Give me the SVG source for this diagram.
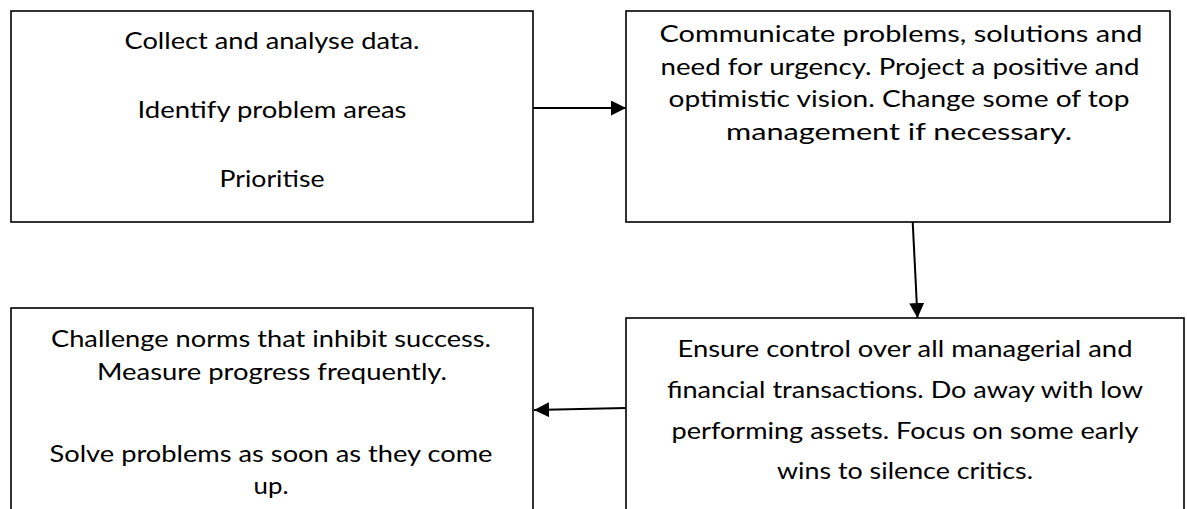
<svg xmlns="http://www.w3.org/2000/svg" width="1187" height="509" viewBox="0 0 1187 509">
<defs>
<style>
.box{fill:#fff;stroke:#000;stroke-width:1.6}
.t{font-family:Lato,"Liberation Sans",sans-serif;font-size:23px;fill:#000;text-anchor:middle}
.c{stroke:#000;stroke-width:2;fill:none}
</style>
<marker id="ah" markerWidth="15" markerHeight="15" refX="15" refY="7.5" orient="auto" markerUnits="userSpaceOnUse">
<path d="M0,0 L15,7.5 L0,15 Z" fill="#000"/>
</marker>
</defs>
<rect width="1187" height="509" fill="#fff"/>
<g id="node1">
<rect class="box" x="11" y="11" width="522" height="211"/>
<text class="t" x="272" y="49" textLength="295" lengthAdjust="spacingAndGlyphs">Collect and analyse data.</text>
<text class="t" x="272" y="118" textLength="269" lengthAdjust="spacingAndGlyphs">Identify problem areas</text>
<text class="t" x="272" y="187" textLength="105" lengthAdjust="spacingAndGlyphs">Prioritise</text>
</g>
<g id="node2">
<rect class="box" x="626" y="11" width="544" height="211"/>
<text class="t" x="901" y="42" textLength="483" lengthAdjust="spacingAndGlyphs">Communicate problems, solutions and</text>
<text class="t" x="900" y="74.5" textLength="479" lengthAdjust="spacingAndGlyphs">need for urgency. Project a positive and</text>
<text class="t" x="899" y="107" textLength="461" lengthAdjust="spacingAndGlyphs">optimistic vision. Change some of top</text>
<text class="t" x="899" y="139.5" textLength="346" lengthAdjust="spacingAndGlyphs">management if necessary.</text>
</g>
<g id="node3">
<rect class="box" x="11" y="308" width="522" height="220"/>
<text class="t" x="271" y="347" textLength="440" lengthAdjust="spacingAndGlyphs">Challenge norms that inhibit success.</text>
<text class="t" x="272" y="379.5" textLength="350" lengthAdjust="spacingAndGlyphs">Measure progress frequently.</text>
<text class="t" x="271" y="461.5" textLength="443" lengthAdjust="spacingAndGlyphs">Solve problems as soon as they come</text>
<text class="t" x="271" y="494" textLength="35" lengthAdjust="spacingAndGlyphs">up.</text>
</g>
<g id="node4">
<rect class="box" x="626" y="318" width="558" height="220"/>
<text class="t" x="905" y="357" textLength="455" lengthAdjust="spacingAndGlyphs">Ensure control over all managerial and</text>
<text class="t" x="905" y="398" textLength="476" lengthAdjust="spacingAndGlyphs">financial transactions. Do away with low</text>
<text class="t" x="905" y="439" textLength="467" lengthAdjust="spacingAndGlyphs">performing assets. Focus on some early</text>
<text class="t" x="905" y="479" textLength="256" lengthAdjust="spacingAndGlyphs">wins to silence critics.</text>
</g>
<g id="connectors">
<line class="c" x1="533" y1="108" x2="626" y2="108" marker-end="url(#ah)"/>
<line class="c" x1="912.7" y1="222" x2="917.5" y2="318" marker-end="url(#ah)"/>
<line class="c" x1="626" y1="408" x2="534" y2="410" marker-end="url(#ah)"/>
</g>
</svg>
